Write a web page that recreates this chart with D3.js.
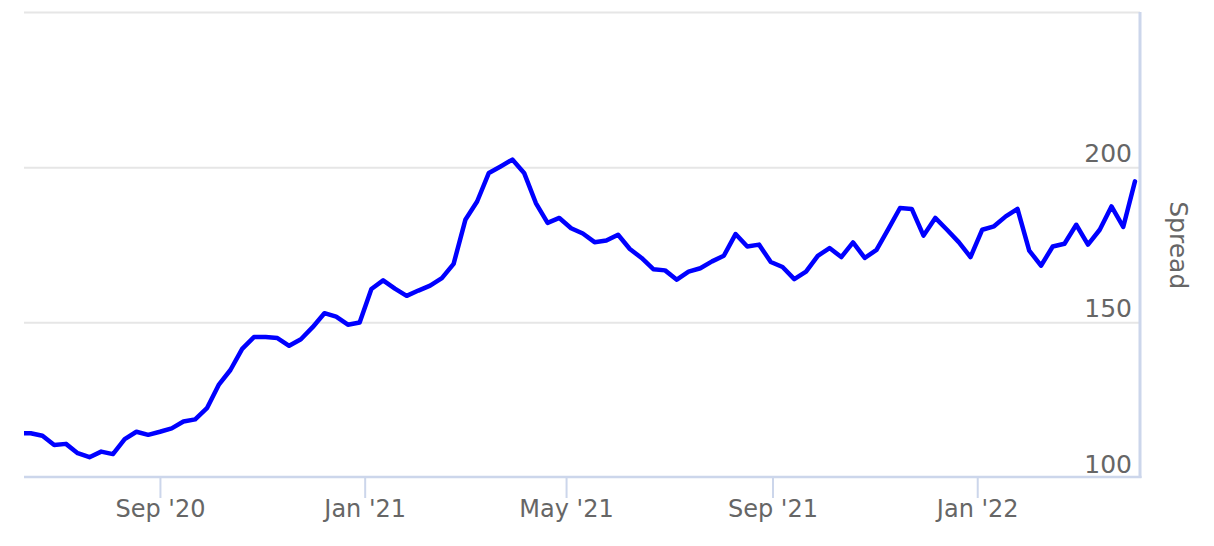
<!DOCTYPE html>
<html>
<head>
<meta charset="utf-8">
<script src="https://cdn.jsdelivr.net/npm/d3@7"></script>
<style>
  html, body { margin: 0; padding: 0; background: #ffffff; }
  svg { display: block; }
  text { font-family: "DejaVu Sans", sans-serif; fill: #666666; }
</style>
</head>
<body>
<svg id="chart" width="1214" height="546"></svg>
<script>
// ---- data ----
const firstDate = "2020-06-09";          // first weekly observation (Tuesday)
const stepDays = 7;                       // weekly series
const spreadValues = [
  114.4, 114.4, 113.6, 110.6, 111.0, 108.0, 106.7, 108.5, 107.7, 112.5,
  114.9, 113.9, 114.9, 116.0, 118.2, 118.9, 122.5, 130.0, 134.8, 141.6,
  145.4, 145.4, 145.1, 142.6, 144.7, 148.6, 153.1, 152.0, 149.4, 150.1,
  160.9, 163.7, 161.0, 158.7, 160.4, 162.0, 164.4, 169.0, 183.2, 189.1,
  198.3, 200.4, 202.6, 198.3, 188.6, 182.2, 183.8, 180.5, 178.8, 176.0,
  176.5, 178.4, 173.8, 170.9, 167.3, 166.9, 163.9, 166.5, 167.6, 169.8,
  171.6, 178.6, 174.6, 175.2, 169.6, 168.0, 164.1, 166.5, 171.6, 174.1,
  171.2, 175.9, 170.9, 173.5, 180.2, 187.0, 186.7, 178.1, 183.8, 180.0,
  176.0, 171.2, 180.0, 181.1, 184.3, 186.7, 173.3, 168.4, 174.6, 175.5,
  181.6, 175.2, 180.0, 187.5, 180.9, 195.6
];
const xDomain = ["2020-06-12", "2022-04-08"];
const yTickValues = [100, 150, 200];
const yGridValues = [150, 200, 250];
const yDomain = [100, 250];
const yTitle = "Spread";

// ---- build ----
const parse = d3.utcParse("%Y-%m-%d");
const start = parse(firstDate);
const data = spreadValues.map((v, i) => ({ date: d3.utcDay.offset(start, i * stepDays), value: v }));

const plot = { left: 24, right: 1140, top: 12.5, bottom: 478 };
const svg = d3.select("#chart");

const x = d3.scaleUtc().domain(xDomain.map(parse)).range([plot.left, plot.right]);
const y = d3.scaleLinear().domain(yDomain).range([plot.bottom, plot.top]);

// gridlines
svg.append("g")
  .selectAll("line")
  .data(yGridValues)
  .join("line")
  .attr("x1", plot.left).attr("x2", plot.right)
  .attr("y1", d => y(d)).attr("y2", d => y(d))
  .attr("stroke", "#e6e6e6").attr("stroke-width", 2);

// clip
svg.append("clipPath").attr("id", "clip")
  .append("rect")
  .attr("x", plot.left).attr("y", 0)
  .attr("width", plot.right - plot.left).attr("height", 546);

// line
const line = d3.line().x(d => x(d.date)).y(d => y(d.value));
svg.append("path")
  .datum(data)
  .attr("clip-path", "url(#clip)")
  .attr("fill", "none")
  .attr("stroke", "#0000ff")
  .attr("stroke-width", 4.5)
  .attr("stroke-linejoin", "round")
  .attr("stroke-linecap", "round")
  .attr("d", line);

// x axis
const xAxis = d3.axisBottom(x)
  .ticks(d3.utcMonth.every(4))
  .tickFormat(d3.utcFormat("%b '%y"))
  .tickSize(21)
  .tickPadding(2);
const gx = svg.append("g").attr("transform", `translate(0,${plot.bottom - 1})`).call(xAxis);
gx.select(".domain").remove();
gx.selectAll(".tick line").attr("stroke", "#ccd6eb").attr("stroke-width", 2);
gx.selectAll(".tick text")
  .attr("font-size", 24)
  .attr("font-family", "DejaVu Sans, sans-serif")
  .attr("fill", "#666666");
gx.append("line")
  .attr("x1", plot.left).attr("x2", plot.right + 1.5)
  .attr("y1", 0).attr("y2", 0)
  .attr("stroke", "#ccd6eb").attr("stroke-width", 2.5);

// y axis (opposite side, labels inside)
const yAxis = d3.axisLeft(y).tickValues(yTickValues).tickSize(0).tickPadding(8);
const gy = svg.append("g").attr("transform", `translate(${plot.right},0)`).call(yAxis);
gy.select(".domain").remove();
gy.selectAll(".tick text")
  .attr("dy", -6)
  .attr("font-size", 25)
  .attr("font-family", "DejaVu Sans, sans-serif")
  .attr("fill", "#666666");
svg.append("line")
  .attr("x1", plot.right).attr("x2", plot.right)
  .attr("y1", plot.top - 0.5).attr("y2", plot.bottom)
  .attr("stroke", "#ccd6eb").attr("stroke-width", 3);

// y title
svg.append("text")
  .attr("transform", `translate(1170,${(plot.top + plot.bottom) / 2 + 0})rotate(90)`)
  .attr("text-anchor", "middle")
  .attr("font-size", 25)
  .attr("fill", "#666666")
  .text(yTitle);
</script>
</body>
</html>
